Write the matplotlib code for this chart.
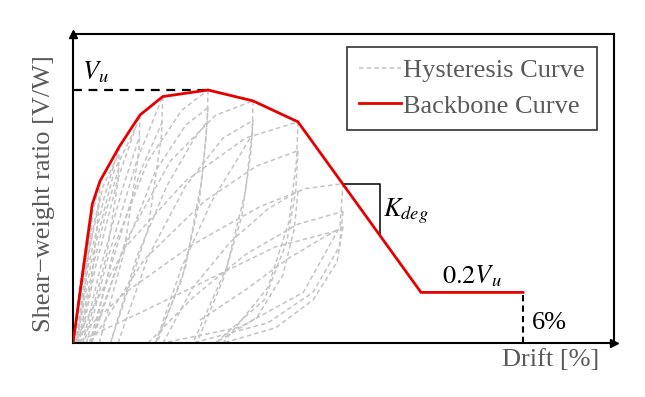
import numpy as np
import matplotlib
matplotlib.use("Agg")
import matplotlib.pyplot as plt

plt.rcParams['font.family'] = ['Liberation Serif', 'DejaVu Serif']
plt.rcParams['mathtext.fontset'] = 'stix'

# backbone curve (drift %, V/Vu)
backbone_x = [0.0, 0.257, 0.36, 0.617, 0.893, 1.196, 1.8, 2.4, 3.0, 4.64, 6.0]
backbone_y = [0.0, 0.549, 0.64, 0.776, 0.901, 0.974, 1.0, 0.957, 0.874, 0.2, 0.2]

# hysteresis branches (drift %, V/Vu)
reload_small = [
    [(0.0, 0.0), (0.1, 0.25), (0.2, 0.45), (0.257, 0.549)],
    [(0.02, 0.0), (0.12, 0.24), (0.22, 0.42), (0.26, 0.50)],
    [(0.02, 0.0), (0.12, 0.27), (0.25, 0.50), (0.36, 0.64)],
    [(0.04, 0.0), (0.15, 0.25), (0.28, 0.47), (0.36, 0.58)],
    [(0.05, 0.0), (0.2, 0.30), (0.42, 0.58), (0.617, 0.776)],
    [(0.07, 0.0), (0.25, 0.28), (0.45, 0.53), (0.62, 0.70)],
    [(0.1, 0.0), (0.3, 0.30), (0.6, 0.65), (0.893, 0.901)],
    [(0.13, 0.0), (0.35, 0.28), (0.65, 0.60), (0.89, 0.82)],
    [(0.18, 0.0), (0.45, 0.32), (0.85, 0.72), (1.196, 0.974)],
    [(0.22, 0.0), (0.5, 0.30), (0.9, 0.68), (1.2, 0.88)],
    [(0.03, 0.05), (0.15, 0.28), (0.4, 0.62), (0.6, 0.74)],
    [(0.06, 0.02), (0.25, 0.33), (0.55, 0.68), (0.85, 0.86)],
]
unload_small = [
    [(0.257, 0.549), (0.24, 0.45), (0.15, 0.2), (0.05, 0.0)],
    [(0.36, 0.64), (0.34, 0.52), (0.25, 0.25), (0.08, 0.0)],
    [(0.617, 0.776), (0.6, 0.64), (0.45, 0.35), (0.15, 0.0)],
    [(0.893, 0.901), (0.88, 0.76), (0.7, 0.40), (0.25, 0.0)],
    [(1.196, 0.974), (1.18, 0.82), (1.0, 0.45), (0.5, 0.0)],
]
reload_large = [
    [(0.25, 0.0), (0.55, 0.38), (1.0, 0.72), (1.45, 0.92), (1.8, 1.0)],
    [(0.35, 0.0), (0.7, 0.38), (1.1, 0.68), (1.5, 0.86), (1.8, 0.93)],
    [(0.5, 0.0), (0.85, 0.34), (1.25, 0.62), (1.6, 0.80), (1.8, 0.88)],
    [(0.23, 0.0), (0.7, 0.40), (1.3, 0.72), (1.9, 0.90), (2.4, 0.957)],
    [(0.6, 0.0), (1.0, 0.34), (1.5, 0.62), (2.0, 0.81), (2.4, 0.88)],
    [(1.1, 0.0), (1.45, 0.30), (1.85, 0.56), (2.2, 0.73), (2.4, 0.83)],
    [(0.05, 0.02), (0.7, 0.38), (1.5, 0.64), (2.3, 0.81), (3.0, 0.874)],
    [(0.3, 0.03), (0.95, 0.33), (1.75, 0.56), (2.45, 0.70), (3.0, 0.76)],
    [(1.2, 0.0), (1.6, 0.22), (2.1, 0.40), (2.6, 0.53), (3.0, 0.60)],
    [(0.05, 0.02), (0.7, 0.2), (1.6, 0.39), (2.5, 0.54), (3.1, 0.61), (3.6, 0.63)],
    [(1.0, 0.0), (1.6, 0.18), (2.3, 0.35), (3.0, 0.47), (3.6, 0.52)],
    [(1.69, 0.09), (2.3, 0.21), (2.85, 0.33), (3.3, 0.41), (3.6, 0.46)],
    [(0.1, 0.01), (0.9, 0.12), (1.8, 0.25), (2.7, 0.38), (3.6, 0.45)],
]
unload_large = [
    [(1.8, 1.0), (1.79, 0.88), (1.72, 0.65), (1.5, 0.30), (1.12, 0.0)],
    [(1.8, 0.93), (1.77, 0.80), (1.68, 0.55), (1.45, 0.25), (1.1, 0.0)],
    [(2.4, 0.957), (2.39, 0.84), (2.3, 0.60), (2.05, 0.30), (1.6, 0.0)],
    [(2.4, 0.88), (2.37, 0.75), (2.25, 0.50), (2.0, 0.25), (1.65, 0.0)],
    [(3.0, 0.874), (2.98, 0.72), (2.88, 0.48), (2.6, 0.22), (2.0, 0.0)],
    [(3.0, 0.76), (2.97, 0.60), (2.85, 0.40), (2.55, 0.17), (1.9, 0.0)],
    [(3.0, 0.60), (2.95, 0.45), (2.8, 0.27), (2.45, 0.10), (1.9, 0.0)],
    [(3.6, 0.63), (3.56, 0.46), (3.07, 0.20), (2.23, 0.063), (1.2, 0.0)],
    [(3.6, 0.52), (3.55, 0.38), (3.2, 0.20), (2.6, 0.08), (1.6, 0.0)],
    [(3.6, 0.46), (3.52, 0.32), (3.2, 0.17), (2.7, 0.06), (2.0, 0.0)],
]

peak_drift = 1.8
kdeg_x = [3.6, 4.09]
residual = 0.2
ultimate_drift = 6.0

fig = plt.figure(figsize=(6.45, 3.97), dpi=100)
ax = fig.add_axes([73 / 645, 1 - 343 / 397, 541 / 645, 309 / 397])
ax.set_xlim(0, 541 / 75)
ax.set_ylim(0, 309 / 253)

hyst_kw = dict(color='#c4c4c4', lw=1.1, ls=(0, (3, 2)))
first = True
for branch in reload_small + unload_small + reload_large + unload_large:
    bx, by = zip(*branch)
    ax.plot(bx, by, label='Hysteresis Curve' if first else None, **hyst_kw)
    first = False

ax.plot(backbone_x, backbone_y, color='#e60000', lw=2, label='Backbone Curve', zorder=5)

# annotations
ax.plot([0, peak_drift], [1, 1], color='black', lw=1.6, ls=(0, (4, 3)), zorder=4)
ax.text(0.12, 1.07, '$V_u$', fontsize=19, va='center', ha='left')

ky = np.interp(kdeg_x, backbone_x, backbone_y)
ax.plot([kdeg_x[0], kdeg_x[1], kdeg_x[1]], [ky[0], ky[0], ky[1]], color='black', lw=1.1, zorder=4)
ax.text(4.13, 0.52, '$K_{deg}$', fontsize=19, va='center', ha='left')

ax.text(5.32, 0.215, '$0.2V_u$', fontsize=19, va='bottom', ha='center')
ax.plot([ultimate_drift, ultimate_drift], [0, residual], color='black', lw=1.5,
        ls=(0, (3, 2)), zorder=4)
ax.text(6.12, 0.08, '6%', fontsize=19, va='center', ha='left')

ax.set_xticks([])
ax.set_yticks([])
for sp in ax.spines.values():
    sp.set_linewidth(1.5)
ax.plot([0], [1], marker='^', color='black', ms=6, transform=ax.transAxes, clip_on=False)
ax.plot([1], [0], marker='>', color='black', ms=6, transform=ax.transAxes, clip_on=False)

leg = ax.legend(loc='upper right', bbox_to_anchor=(0.9686, 0.958), borderaxespad=0,
                fontsize=19, frameon=True, fancybox=False, handlelength=1.6,
                handletextpad=0.1, labelspacing=0.45, borderpad=0.45, labelcolor='#595959')
leg.get_frame().set_edgecolor('black')
leg.get_frame().set_linewidth(1.2)

fig.text(551 / 645, 1 - 360 / 397, 'Drift [%]', fontsize=19, color='#595959', ha='center', va='center')
fig.text(44 / 645, 1 - 193.5 / 397, 'Shear\u2212weight ratio [V/W]', fontsize=19, color='#595959',
         ha='center', va='center', rotation=90)

fig.savefig('out.png', dpi=100)
